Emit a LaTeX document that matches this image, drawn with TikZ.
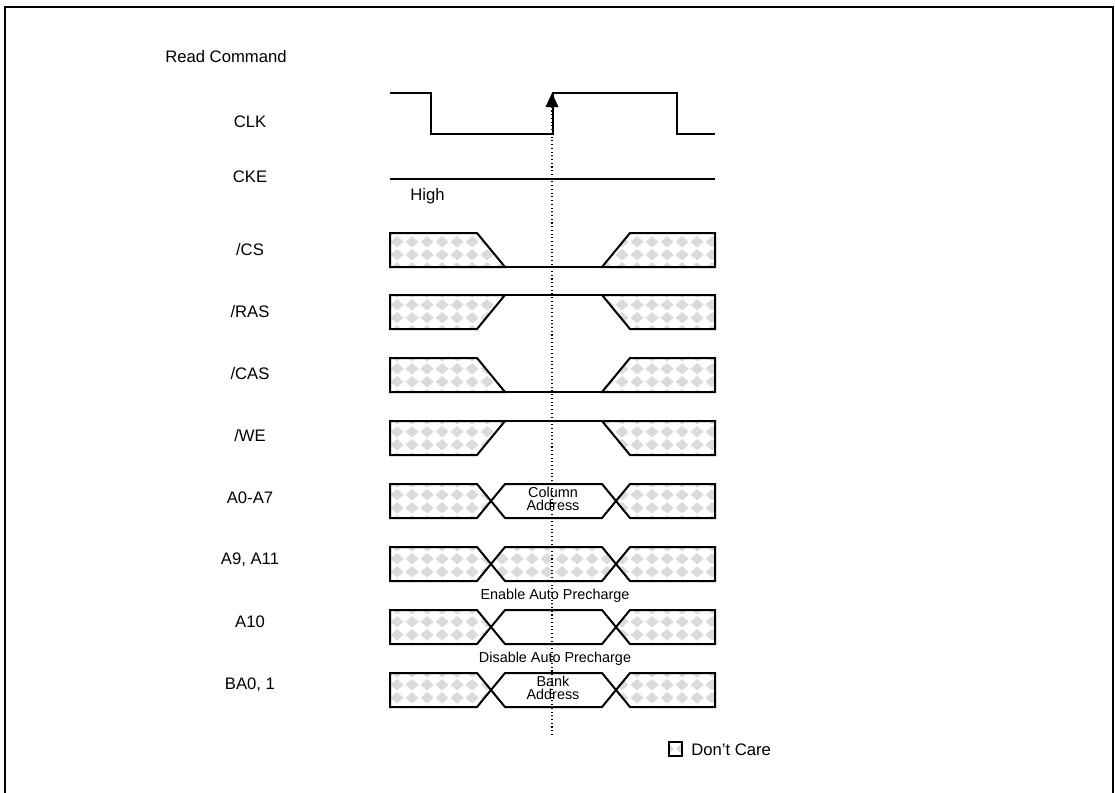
\documentclass[tikz,border=0pt]{standalone}
\usepackage{fontspec}
\setmainfont{Liberation Sans}
\usetikzlibrary{patterns,arrows.meta}
\pgfdeclarepatternformonly{ddiamonds}{\pgfpointorigin}{\pgfpoint{11.25pt}{9.5pt}}{\pgfpoint{11.25pt}{9.5pt}}{%
 \pgfpathmoveto{\pgfpoint{5.625pt}{0.35pt}}%
 \pgfpathlineto{\pgfpoint{10.85pt}{4.75pt}}%
 \pgfpathlineto{\pgfpoint{5.625pt}{9.15pt}}%
 \pgfpathlineto{\pgfpoint{0.4pt}{4.75pt}}%
 \pgfpathclose
 \pgfusepath{fill}}
\tikzset{
  sig/.style={line width=1.5pt, line join=miter},
  thin sig/.style={line width=0.8pt},
  hatch/.style={sig, pattern=ddiamonds, pattern color=black!14},
  lbl/.style={font=\fontsize{12.5}{14}\selectfont, inner sep=0pt},
  small/.style={font=\fontsize{10.8}{9.3}\selectfont, inner sep=0pt, align=center},
}
% row macros: #1 = top y (pixels)
\newcommand\sigLow[1]{%
  \pgfmathsetmacro\T{#1}\pgfmathsetmacro\B{#1+34}%
  \draw[hatch] (390,\T) -- (477,\T) -- (505,\B) -- (390,\B) -- cycle;
  \draw[thin sig] (505,\B) -- (602,\B);
  \draw[hatch] (602,\B) -- (630,\T) -- (715,\T) -- (715,\B) -- cycle;}
\newcommand\sigHigh[1]{%
  \pgfmathsetmacro\T{#1}\pgfmathsetmacro\B{#1+34}%
  \draw[hatch] (390,\T) -- (505,\T) -- (477,\B) -- (390,\B) -- cycle;
  \draw[thin sig] (505,\T) -- (602,\T);
  \draw[hatch] (602,\T) -- (715,\T) -- (715,\B) -- (630,\B) -- cycle;}
\newcommand\sigBus[2]{%
  \pgfmathsetmacro\T{#1}\pgfmathsetmacro\B{#1+34}\pgfmathsetmacro\M{#1+17}%
  \draw[hatch] (390,\T) -- (477,\T) -- (491,\M) -- (477,\B) -- (390,\B) -- cycle;
  \draw[sig,#2] (491,\M) -- (505,\T) -- (602,\T) -- (616,\M) -- (602,\B) -- (505,\B) -- cycle;
  \draw[hatch] (616,\M) -- (630,\T) -- (715,\T) -- (715,\B) -- (630,\B) -- cycle;}
\begin{document}
\begin{tikzpicture}[x=0.75pt,y=-0.75pt]
\useasboundingbox (0,0) rectangle (1115,793);
% frame (open at bottom)
\draw[line width=1.5pt] (5,800) -- (5,7) -- (1113,7) -- (1113,800);

% labels
\node[lbl, anchor=west] (rc) at (165,57) {Read Command};
\node[lbl] (lclk) at (250,122) {CLK};
\node[lbl] (lcke) at (250,177) {CKE};
\node[lbl] (lcs) at (250,250) {/CS};
\node[lbl] (lras) at (250,312) {/RAS};
\node[lbl] (lcas) at (250,374) {/CAS};
\node[lbl] (lwe) at (250,436) {/WE};
\node[lbl] (la0) at (250,498) {A0-A7};
\node[lbl] (la9) at (250,560) {A9, A11};
\node[lbl] (la10) at (250,622) {A10};
\node[lbl] (lba) at (250,685) {BA0, 1};

% CLK
\draw[sig] (390,93) -- (431,93) -- (431,134) -- (553,134) -- (553,93) -- (677,93) -- (677,134) -- (715,134);
% CKE
\draw[line width=1.1pt] (390,179) -- (715,179);
\node[lbl, anchor=west] (high) at (410,196) {High};

\sigLow{233}
\sigHigh{295}
\sigLow{358}
\sigHigh{421}
\sigBus{484}{fill=white}
\sigBus{547}{pattern=ddiamonds, pattern color=black!14}
\sigBus{610}{fill=white}
\sigBus{673}{fill=white}

% clock edge marker
\coordinate (arrbot) at (552,735);
\coordinate (arrtop) at (552,93);
\draw[dotted, line width=0.8pt, -{Triangle[length=10.5pt,width=9.5pt]}] (arrbot) -- (arrtop);

% texts in bus fields
\node[small] (colad) at (553,499) {Column\\Address};
\node[small] (enap) at (555,596) {Enable Auto Precharge};
\node[small] (disap) at (555,659) {Disable Auto Precharge};
\node[small] (bankad) at (553,688) {Bank\\Address};

% legend
\draw[line width=1.2pt, pattern=ddiamonds, pattern color=black!14] (669,742) rectangle (682,756);
\node[lbl, anchor=west] (dc) at (691,750) {Don’t Care};
\end{tikzpicture}
\end{document}
